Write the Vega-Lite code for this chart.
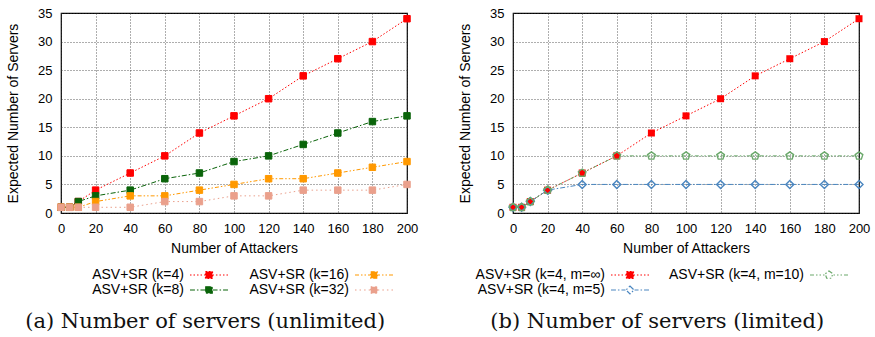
{
  "$schema": "https://vega.github.io/schema/vega-lite/v6.json",
  "padding": {"left": 5, "top": 6, "right": 5, "bottom": 5},
  "spacing": 38,
  "resolve": {
    "scale": {"stroke": "independent", "fill": "independent", "shape": "independent", "strokeDash": "independent"},
    "legend": {"stroke": "independent", "fill": "independent", "shape": "independent", "strokeDash": "independent"}
  },
  "config": {
    "font": "Liberation Sans",
    "view": {"stroke": "black", "strokeWidth": 1.2},
    "axis": {
      "grid": true, "gridColor": "#333", "gridDash": [1, 2], "gridWidth": 0.8,
      "ticks": false, "domain": false,
      "labelFont": "Liberation Sans", "labelFontSize": 13, "labelColor": "black", "labelPadding": 9,
      "titleFont": "Liberation Sans", "titleFontSize": 14, "titleFontWeight": "normal", "titleColor": "black"
    },
    "axisX": {"titlePadding": 6, "labelFlush": false},
    "axisY": {"titlePadding": 17},
    "legend": {
      "columns": 2, "labelFont": "Liberation Sans", "labelFontSize": 14, "labelColor": "black",
      "labelAlign": "right", "labelOffset": -32, "symbolSize": 100, "symbolStrokeWidth": 1.2,
      "rowPadding": 1, "labelLimit": 400, "padding": 0
    },
    "title": {"orient": "bottom", "font": "DejaVu Serif", "fontSize": 21, "fontWeight": "normal", "color": "#111", "offset": 14, "anchor": "middle", "frame": "bounds", "dx": -7}
  },
  "datasets": {
    "left": [
      {"s": "ASV+SR (k=4)", "x": 0, "y": 1}, {"s": "ASV+SR (k=4)", "x": 5, "y": 1}, {"s": "ASV+SR (k=4)", "x": 10, "y": 2},
      {"s": "ASV+SR (k=4)", "x": 20, "y": 4}, {"s": "ASV+SR (k=4)", "x": 40, "y": 7}, {"s": "ASV+SR (k=4)", "x": 60, "y": 10},
      {"s": "ASV+SR (k=4)", "x": 80, "y": 14}, {"s": "ASV+SR (k=4)", "x": 100, "y": 17}, {"s": "ASV+SR (k=4)", "x": 120, "y": 20},
      {"s": "ASV+SR (k=4)", "x": 140, "y": 24}, {"s": "ASV+SR (k=4)", "x": 160, "y": 27}, {"s": "ASV+SR (k=4)", "x": 180, "y": 30},
      {"s": "ASV+SR (k=4)", "x": 200, "y": 34},
      {"s": "ASV+SR (k=8)", "x": 0, "y": 1}, {"s": "ASV+SR (k=8)", "x": 5, "y": 1}, {"s": "ASV+SR (k=8)", "x": 10, "y": 2},
      {"s": "ASV+SR (k=8)", "x": 20, "y": 3}, {"s": "ASV+SR (k=8)", "x": 40, "y": 4}, {"s": "ASV+SR (k=8)", "x": 60, "y": 6},
      {"s": "ASV+SR (k=8)", "x": 80, "y": 7}, {"s": "ASV+SR (k=8)", "x": 100, "y": 9}, {"s": "ASV+SR (k=8)", "x": 120, "y": 10},
      {"s": "ASV+SR (k=8)", "x": 140, "y": 12}, {"s": "ASV+SR (k=8)", "x": 160, "y": 14}, {"s": "ASV+SR (k=8)", "x": 180, "y": 16},
      {"s": "ASV+SR (k=8)", "x": 200, "y": 17},
      {"s": "ASV+SR (k=16)", "x": 0, "y": 1}, {"s": "ASV+SR (k=16)", "x": 5, "y": 1}, {"s": "ASV+SR (k=16)", "x": 10, "y": 1},
      {"s": "ASV+SR (k=16)", "x": 20, "y": 2}, {"s": "ASV+SR (k=16)", "x": 40, "y": 3}, {"s": "ASV+SR (k=16)", "x": 60, "y": 3},
      {"s": "ASV+SR (k=16)", "x": 80, "y": 4}, {"s": "ASV+SR (k=16)", "x": 100, "y": 5}, {"s": "ASV+SR (k=16)", "x": 120, "y": 6},
      {"s": "ASV+SR (k=16)", "x": 140, "y": 6}, {"s": "ASV+SR (k=16)", "x": 160, "y": 7}, {"s": "ASV+SR (k=16)", "x": 180, "y": 8},
      {"s": "ASV+SR (k=16)", "x": 200, "y": 9},
      {"s": "ASV+SR (k=32)", "x": 0, "y": 1}, {"s": "ASV+SR (k=32)", "x": 5, "y": 1}, {"s": "ASV+SR (k=32)", "x": 10, "y": 1},
      {"s": "ASV+SR (k=32)", "x": 20, "y": 1}, {"s": "ASV+SR (k=32)", "x": 40, "y": 1}, {"s": "ASV+SR (k=32)", "x": 60, "y": 2},
      {"s": "ASV+SR (k=32)", "x": 80, "y": 2}, {"s": "ASV+SR (k=32)", "x": 100, "y": 3}, {"s": "ASV+SR (k=32)", "x": 120, "y": 3},
      {"s": "ASV+SR (k=32)", "x": 140, "y": 4}, {"s": "ASV+SR (k=32)", "x": 160, "y": 4}, {"s": "ASV+SR (k=32)", "x": 180, "y": 4},
      {"s": "ASV+SR (k=32)", "x": 200, "y": 5}
    ],
    "right": [
      {"s": "ASV+SR (k=4, m=∞)", "x": 0, "y": 1}, {"s": "ASV+SR (k=4, m=∞)", "x": 5, "y": 1}, {"s": "ASV+SR (k=4, m=∞)", "x": 10, "y": 2},
      {"s": "ASV+SR (k=4, m=∞)", "x": 20, "y": 4}, {"s": "ASV+SR (k=4, m=∞)", "x": 40, "y": 7}, {"s": "ASV+SR (k=4, m=∞)", "x": 60, "y": 10},
      {"s": "ASV+SR (k=4, m=∞)", "x": 80, "y": 14}, {"s": "ASV+SR (k=4, m=∞)", "x": 100, "y": 17}, {"s": "ASV+SR (k=4, m=∞)", "x": 120, "y": 20},
      {"s": "ASV+SR (k=4, m=∞)", "x": 140, "y": 24}, {"s": "ASV+SR (k=4, m=∞)", "x": 160, "y": 27}, {"s": "ASV+SR (k=4, m=∞)", "x": 180, "y": 30},
      {"s": "ASV+SR (k=4, m=∞)", "x": 200, "y": 34},
      {"s": "ASV+SR (k=4, m=5)", "x": 0, "y": 1}, {"s": "ASV+SR (k=4, m=5)", "x": 5, "y": 1}, {"s": "ASV+SR (k=4, m=5)", "x": 10, "y": 2},
      {"s": "ASV+SR (k=4, m=5)", "x": 20, "y": 4}, {"s": "ASV+SR (k=4, m=5)", "x": 40, "y": 5}, {"s": "ASV+SR (k=4, m=5)", "x": 60, "y": 5},
      {"s": "ASV+SR (k=4, m=5)", "x": 80, "y": 5}, {"s": "ASV+SR (k=4, m=5)", "x": 100, "y": 5}, {"s": "ASV+SR (k=4, m=5)", "x": 120, "y": 5},
      {"s": "ASV+SR (k=4, m=5)", "x": 140, "y": 5}, {"s": "ASV+SR (k=4, m=5)", "x": 160, "y": 5}, {"s": "ASV+SR (k=4, m=5)", "x": 180, "y": 5},
      {"s": "ASV+SR (k=4, m=5)", "x": 200, "y": 5},
      {"s": "ASV+SR (k=4, m=10)", "x": 0, "y": 1}, {"s": "ASV+SR (k=4, m=10)", "x": 5, "y": 1}, {"s": "ASV+SR (k=4, m=10)", "x": 10, "y": 2},
      {"s": "ASV+SR (k=4, m=10)", "x": 20, "y": 4}, {"s": "ASV+SR (k=4, m=10)", "x": 40, "y": 7}, {"s": "ASV+SR (k=4, m=10)", "x": 60, "y": 10},
      {"s": "ASV+SR (k=4, m=10)", "x": 80, "y": 10}, {"s": "ASV+SR (k=4, m=10)", "x": 100, "y": 10}, {"s": "ASV+SR (k=4, m=10)", "x": 120, "y": 10},
      {"s": "ASV+SR (k=4, m=10)", "x": 140, "y": 10}, {"s": "ASV+SR (k=4, m=10)", "x": 160, "y": 10}, {"s": "ASV+SR (k=4, m=10)", "x": 180, "y": 10},
      {"s": "ASV+SR (k=4, m=10)", "x": 200, "y": 10}
    ]
  },
  "hconcat": [
    {
      "width": 346, "height": 200,
      "title": "(a) Number of servers (unlimited)",
      "data": {"name": "left"},
      "encoding": {
        "x": {"field": "x", "type": "quantitative", "scale": {"domain": [0, 200], "nice": false},
              "axis": {"values": [0, 20, 40, 60, 80, 100, 120, 140, 160, 180, 200], "title": "Number of Attackers"}},
        "y": {"field": "y", "type": "quantitative", "scale": {"domain": [0, 35], "nice": false},
              "axis": {"values": [0, 5, 10, 15, 20, 25, 30, 35], "title": "Expected Number of Servers"}}
      },
      "layer": [
        {
          "mark": {"type": "line", "strokeWidth": 1, "opacity": 1},
          "encoding": {
            "stroke": {"field": "s", "type": "nominal",
              "scale": {"domain": ["ASV+SR (k=4)", "ASV+SR (k=8)", "ASV+SR (k=16)", "ASV+SR (k=32)"],
                        "range": ["#ff0000", "#0a640a", "#ff9900", "#eaa08c"]},
              "legend": {"title": null, "orient": "none", "legendX": 141, "legendY": 255, "columnPadding": 18}},
            "strokeDash": {"field": "s", "type": "nominal",
              "scale": {"domain": ["ASV+SR (k=4)", "ASV+SR (k=8)", "ASV+SR (k=16)", "ASV+SR (k=32)"],
                        "range": [[1.5, 2], [5, 2, 1.5, 2], [4, 2, 1.5, 2, 1.5, 2], [1.5, 3]]},
              "legend": null}
          }
        },
        {
          "mark": {"type": "point", "shape": "square", "filled": true, "size": 42, "opacity": 1, "strokeWidth": 1},
          "encoding": {
            "stroke": {"field": "s", "type": "nominal", "legend": {"title": null, "orient": "none", "legendX": 141, "legendY": 255, "columnPadding": 18}},
            "fill": {"field": "s", "type": "nominal",
              "scale": {"domain": ["ASV+SR (k=4)", "ASV+SR (k=8)", "ASV+SR (k=16)", "ASV+SR (k=32)"],
                        "range": ["#ff0000", "#0a640a", "#ff9900", "#eaa08c"]},
              "legend": {"title": null, "orient": "none", "legendX": 141, "legendY": 255, "columnPadding": 18}}
          }
        },
        {
          "transform": [{"filter": "datum.x < 0"}],
          "mark": {"type": "point", "filled": true, "opacity": 1},
          "encoding": {
            "stroke": {"field": "s", "type": "nominal", "legend": {"title": null, "orient": "none", "legendX": 141, "legendY": 255, "columnPadding": 18}},
            "fill": {"field": "s", "type": "nominal", "legend": {"title": null, "orient": "none", "legendX": 141, "legendY": 255, "columnPadding": 18}},
            "shape": {"field": "s", "type": "nominal",
              "scale": {"domain": ["ASV+SR (k=4)", "ASV+SR (k=8)", "ASV+SR (k=16)", "ASV+SR (k=32)"],
                        "range": [
                          "M-3.8,0H-3.496M-3.097,0H-2.793M-2.394,0H-2.09M-1.691,0H-1.387M-0.988,0H-0.76M0.76,0H0.988M1.387,0H1.691M2.09,0H2.394M2.793,0H3.097M3.496,0H3.8M-0.7,-0.7H0.7V0.7H-0.7Z",
                          "M-3.8,0H-2.812M-2.413,0H-2.109M-1.71,0H-0.76M0.76,0H1.71M2.109,0H2.413M2.812,0H3.8M-0.65,-0.65H0.65V0.65H-0.65Z",
                          "M-3.8,0H-3.002M-2.603,0H-2.299M-1.9,0H-1.596M-1.197,0H-0.76M0.76,0H1.197M1.596,0H1.9M2.299,0H2.603M3.002,0H3.8M-0.65,-0.65H0.65V0.65H-0.65Z",
                          "M-3.8,0H-3.496M-2.888,0H-2.584M-1.976,0H-1.672M-1.064,0H-0.76M0.76,0H1.064M1.672,0H1.976M2.584,0H2.888M3.496,0H3.8M-0.65,-0.65H0.65V0.65H-0.65Z"
                        ]},
              "legend": {"title": null, "orient": "none", "legendX": 141, "legendY": 255, "columnPadding": 18}}
          }
        }
      ]
    },
    {
      "width": 346, "height": 200,
      "title": "(b) Number of servers (limited)",
      "data": {"name": "right"},
      "encoding": {
        "x": {"field": "x", "type": "quantitative", "scale": {"domain": [0, 200], "nice": false},
              "axis": {"values": [0, 20, 40, 60, 80, 100, 120, 140, 160, 180, 200], "title": "Number of Attackers"}},
        "y": {"field": "y", "type": "quantitative", "scale": {"domain": [0, 35], "nice": false},
              "axis": {"values": [0, 5, 10, 15, 20, 25, 30, 35], "title": "Expected Number of Servers"}}
      },
      "layer": [
        {
          "mark": {"type": "line", "strokeWidth": 1, "opacity": 1},
          "encoding": {
            "stroke": {"field": "s", "type": "nominal",
              "scale": {"domain": ["ASV+SR (k=4, m=∞)", "ASV+SR (k=4, m=5)", "ASV+SR (k=4, m=10)"],
                        "range": ["#ff0000", "#4a86c0", "#6aa86a"]},
              "legend": {"title": null, "orient": "none", "legendX": 110, "legendY": 255, "columnPadding": 16}},
            "strokeDash": {"field": "s", "type": "nominal",
              "scale": {"domain": ["ASV+SR (k=4, m=∞)", "ASV+SR (k=4, m=5)", "ASV+SR (k=4, m=10)"],
                        "range": [[1.5, 2], [5, 2, 1.5, 2], [4, 2, 1.5, 2, 1.5, 2]]},
              "legend": null}
          }
        },
        {
          "transform": [{"filter": "datum.s == 'ASV+SR (k=4, m=∞)'"}],
          "mark": {"type": "point", "shape": "square", "filled": true, "size": 49, "opacity": 1, "color": "#ff0000"}
        },
        {
          "transform": [{"filter": "datum.s == 'ASV+SR (k=4, m=5)'"}],
          "mark": {"type": "point", "shape": "diamond", "filled": true, "size": 64, "opacity": 1, "fill": "transparent", "stroke": "#4a86c0", "strokeWidth": 1.4}
        },
        {
          "transform": [{"filter": "datum.s == 'ASV+SR (k=4, m=10)'"}],
          "mark": {"type": "point", "shape": "M0,-1L0.951,-0.309L0.588,0.809L-0.588,0.809L-0.951,-0.309Z", "filled": true, "size": 64, "opacity": 1, "fill": "transparent", "stroke": "#6aa86a", "strokeWidth": 1.4}
        },
        {
          "transform": [{"filter": "datum.x < 0"}],
          "mark": {"type": "point", "filled": true, "opacity": 1},
          "encoding": {
            "stroke": {"field": "s", "type": "nominal", "legend": {"title": null, "orient": "none", "legendX": 110, "legendY": 255, "columnPadding": 16}},
            "fill": {"field": "s", "type": "nominal",
              "scale": {"domain": ["ASV+SR (k=4, m=∞)", "ASV+SR (k=4, m=5)", "ASV+SR (k=4, m=10)"],
                        "range": ["#ff0000", "white", "white"]},
              "legend": {"title": null, "orient": "none", "legendX": 110, "legendY": 255, "columnPadding": 16}},
            "shape": {"field": "s", "type": "nominal",
              "scale": {"domain": ["ASV+SR (k=4, m=∞)", "ASV+SR (k=4, m=5)", "ASV+SR (k=4, m=10)"],
                        "range": [
                          "M-3.8,0H-3.496M-3.097,0H-2.793M-2.394,0H-2.09M-1.691,0H-1.387M-0.988,0H-0.76M0.76,0H0.988M1.387,0H1.691M2.09,0H2.394M2.793,0H3.097M3.496,0H3.8M-0.7,-0.7H0.7V0.7H-0.7Z",
                          "M-3.8,0H-2.812M-2.413,0H-2.109M-1.71,0H-0.9M0.9,0H1.71M2.109,0H2.413M2.812,0H3.8M0,-0.8L0.8,0L0,0.8L-0.8,0Z",
                          "M-3.8,0H-3.002M-2.603,0H-2.299M-1.9,0H-1.596M-1.197,0H-0.9M0.9,0H1.197M1.596,0H1.9M2.299,0H2.603M3.002,0H3.8M0,-0.8L0.76,-0.247L0.47,0.646L-0.47,0.646L-0.76,-0.247Z"
                        ]},
              "legend": {"title": null, "orient": "none", "legendX": 110, "legendY": 255, "columnPadding": 16}}
          }
        }
      ]
    }
  ]
}
